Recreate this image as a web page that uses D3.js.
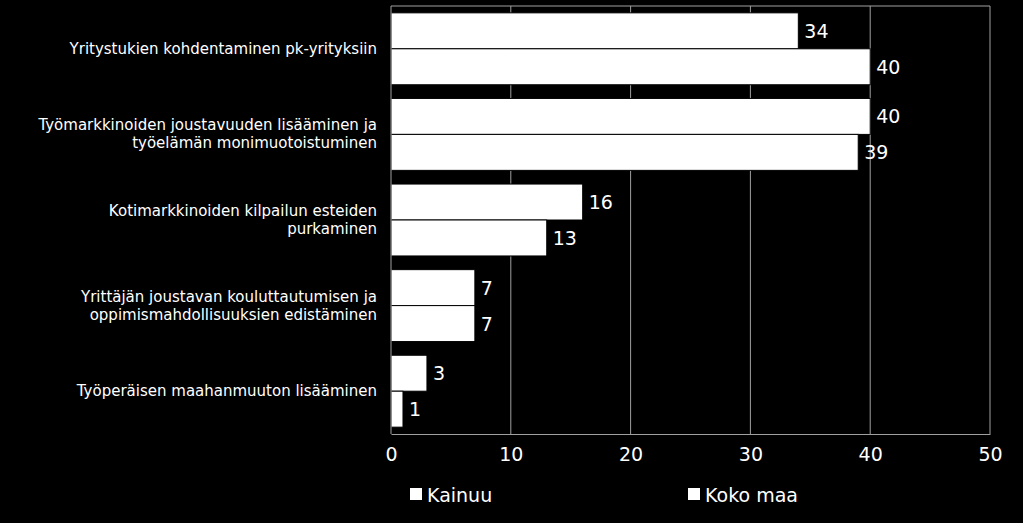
<!DOCTYPE html>
<html><head><meta charset="utf-8">
<script src="https://cdn.jsdelivr.net/npm/d3@7"></script>
<style>body{margin:0;background:#000;}svg{display:block;font-family:"DejaVu Sans",sans-serif;}</style>
</head><body>
<script>
const categories = [
  ["Yritystukien kohdentaminen pk-yrityksiin"],
  ["Työmarkkinoiden joustavuuden lisääminen ja", "työelämän monimuotoistuminen"],
  ["Kotimarkkinoiden kilpailun esteiden", "purkaminen"],
  ["Yrittäjän joustavan kouluttautumisen ja", "oppimismahdollisuuksien edistäminen"],
  ["Työperäisen maahanmuuton lisääminen"]
];
const kainuu = [34, 40, 16, 7, 3];
const kokoMaa = [40, 39, 13, 7, 1];
const series = ["Kainuu", "Koko maa"];
const ticks = [0, 10, 20, 30, 40, 50];

const W = 1023, H = 523;
const m = {left: 391, right: 33, top: 6, bottom: 89};
const svg = d3.select("body").append("svg").attr("width", W).attr("height", H);
const x = d3.scaleLinear().domain([0, 50]).range([m.left, W - m.right]);
const y = d3.scaleBand().domain(d3.range(categories.length)).range([m.top, H - m.bottom]).paddingInner(0.16).paddingOuter(0.08);

// grid
svg.selectAll(".grid").data(ticks.slice(1)).join("line")
  .attr("x1", d => x(d)).attr("x2", d => x(d))
  .attr("y1", m.top).attr("y2", H - m.bottom)
  .attr("stroke", "#a0a0a0").attr("stroke-width", 1);
svg.append("line").attr("x1", m.left).attr("x2", W - m.right).attr("y1", m.top).attr("y2", m.top).attr("stroke", "#a0a0a0");

const bh = y.bandwidth() / 2;
const groups = [kainuu, kokoMaa];
groups.forEach((vals, s) => {
  svg.selectAll(".b" + s).data(vals).join("rect")
    .attr("x", x(0)).attr("y", (d, i) => y(i) + s * bh)
    .attr("width", d => x(d) - x(0)).attr("height", bh)
    .attr("fill", "#fff").attr("stroke", "#000").attr("stroke-width", 1);
  svg.selectAll(".l" + s).data(vals).join("text")
    .attr("x", d => x(d) + 6).attr("y", (d, i) => y(i) + s * bh + bh / 2 + 7)
    .attr("fill", "#fff").attr("font-size", 19).text(d => d);
});

// axis
const ax = svg.append("g").attr("transform", `translate(0,${H - m.bottom})`)
  .call(d3.axisBottom(x).tickValues(ticks).tickSize(0).tickPadding(14));
ax.select(".domain").attr("stroke", "#a0a0a0");
ax.selectAll("text").attr("fill", "#fff").attr("font-size", 19).attr("font-family", "DejaVu Sans");
svg.append("line").attr("x1", m.left).attr("x2", m.left).attr("y1", m.top).attr("y2", H - m.bottom).attr("stroke", "#a0a0a0");

// category labels
categories.forEach((lines, i) => {
  const t = svg.append("text").attr("text-anchor", "end").attr("fill", "#fff").attr("font-size", 15);
  const cy = y(i) + y.bandwidth() / 2 - (lines.length - 1) * 9 + 5;
  lines.forEach((l, j) => t.append("tspan").attr("x", 377).attr("y", cy + j * 18).text(l));
});

// legend
const lx = [410, 688];
series.forEach((s, i) => {
  svg.append("rect").attr("x", lx[i]).attr("y", 488).attr("width", 12).attr("height", 12).attr("fill", "#fff");
  svg.append("text").attr("x", lx[i] + 17).attr("y", 502).attr("fill", "#fff").attr("font-size", 19).text(s);
});
</script>
</body></html>
